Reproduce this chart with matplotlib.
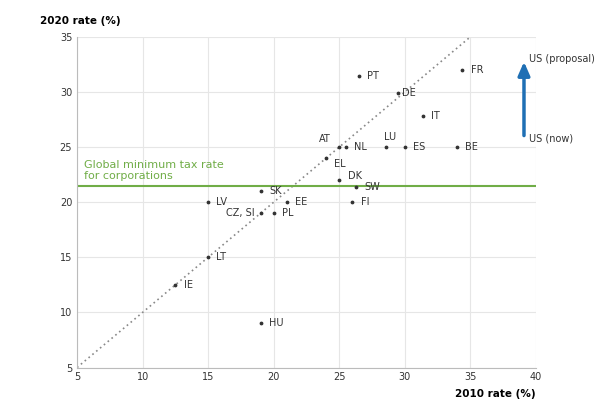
import matplotlib
matplotlib.use("Agg")
import matplotlib.pyplot as plt

countries = ["PT","FR","DE","IT","AT","NL","LU","ES","BE","EL","DK","SW","FI","SK","LV","EE","CZ, SI","PL","LT","IE","HU"]
x2010 = [26.5,34.4,29.5,31.4,25.0,25.5,28.6,30.0,34.0,24.0,25.0,26.3,26.0,19.0,15.0,21.0,19.0,20.0,15.0,12.5,19.0]
y2020 = [31.5,32.0,29.9,27.8,25.0,25.0,25.0,25.0,25.0,24.0,22.0,21.4,20.0,21.0,20.0,20.0,19.0,19.0,15.0,12.5,9.0]
label_off = {"AT":(-6,6,"right"),"LU":(-2,7,"left"),"EL":(6,-4,"left"),"DK":(6,3,"left"),
             "CZ, SI":(-4,0,"right"),"DE":(3,0,"left")}
us_now, us_prop, us_x = 25.8, 33.0, 39.1
gmt = 21.5

fig, ax = plt.subplots(figsize=(6.02,4.20), dpi=100)
fig.subplots_adjust(left=0.128, right=0.89, top=0.912, bottom=0.125)
ax.set_xlim(5,40); ax.set_ylim(5,35)
ax.set_xticks(range(5,41,5)); ax.set_yticks(range(5,36,5))
ax.grid(True, color="#e6e6e6", lw=0.8)
ax.set_axisbelow(True)
for s in ["top","right"]: ax.spines[s].set_visible(False)
for s in ["left","bottom"]: ax.spines[s].set_color("#bbbbbb")
ax.tick_params(labelsize=7, length=0, colors="#333333")
ax.plot([5,35],[5,35], ls=(0,(1,2)), color="#888888", lw=1.2)
ax.axhline(gmt, color="#70ad47", lw=1.5)
ax.text(5.5, 21.9, "Global minimum tax rate\nfor corporations", color="#70ad47", fontsize=8, va="bottom")
ax.scatter(x2010, y2020, s=3, color="#333333", zorder=3)
for c,x,y in zip(countries,x2010,y2020):
    dx,dy,ha = label_off.get(c,(6,0,"left"))
    ax.annotate(c,(x,y),xytext=(dx,dy),textcoords="offset points",fontsize=7,va="center",ha=ha,color="#333333")
ax.annotate("", xy=(us_x,us_prop), xytext=(us_x,us_now),
            arrowprops=dict(arrowstyle="-|>,head_width=0.35,head_length=0.8", color="#1f6fb4", lw=2.5))
ax.text(us_x+0.4, us_now, "US (now)", fontsize=7, va="center", color="#333333")
ax.text(us_x+0.4, us_prop, "US (proposal)", fontsize=7, va="center", color="#333333")
ax.text(-0.08, 1.04, "2020 rate (%)", transform=ax.transAxes, fontsize=7.5, fontweight="bold")
ax.text(1.0, -0.09, "2010 rate (%)", transform=ax.transAxes, fontsize=7.5, fontweight="bold", ha="right")
fig.savefig("out.png")
